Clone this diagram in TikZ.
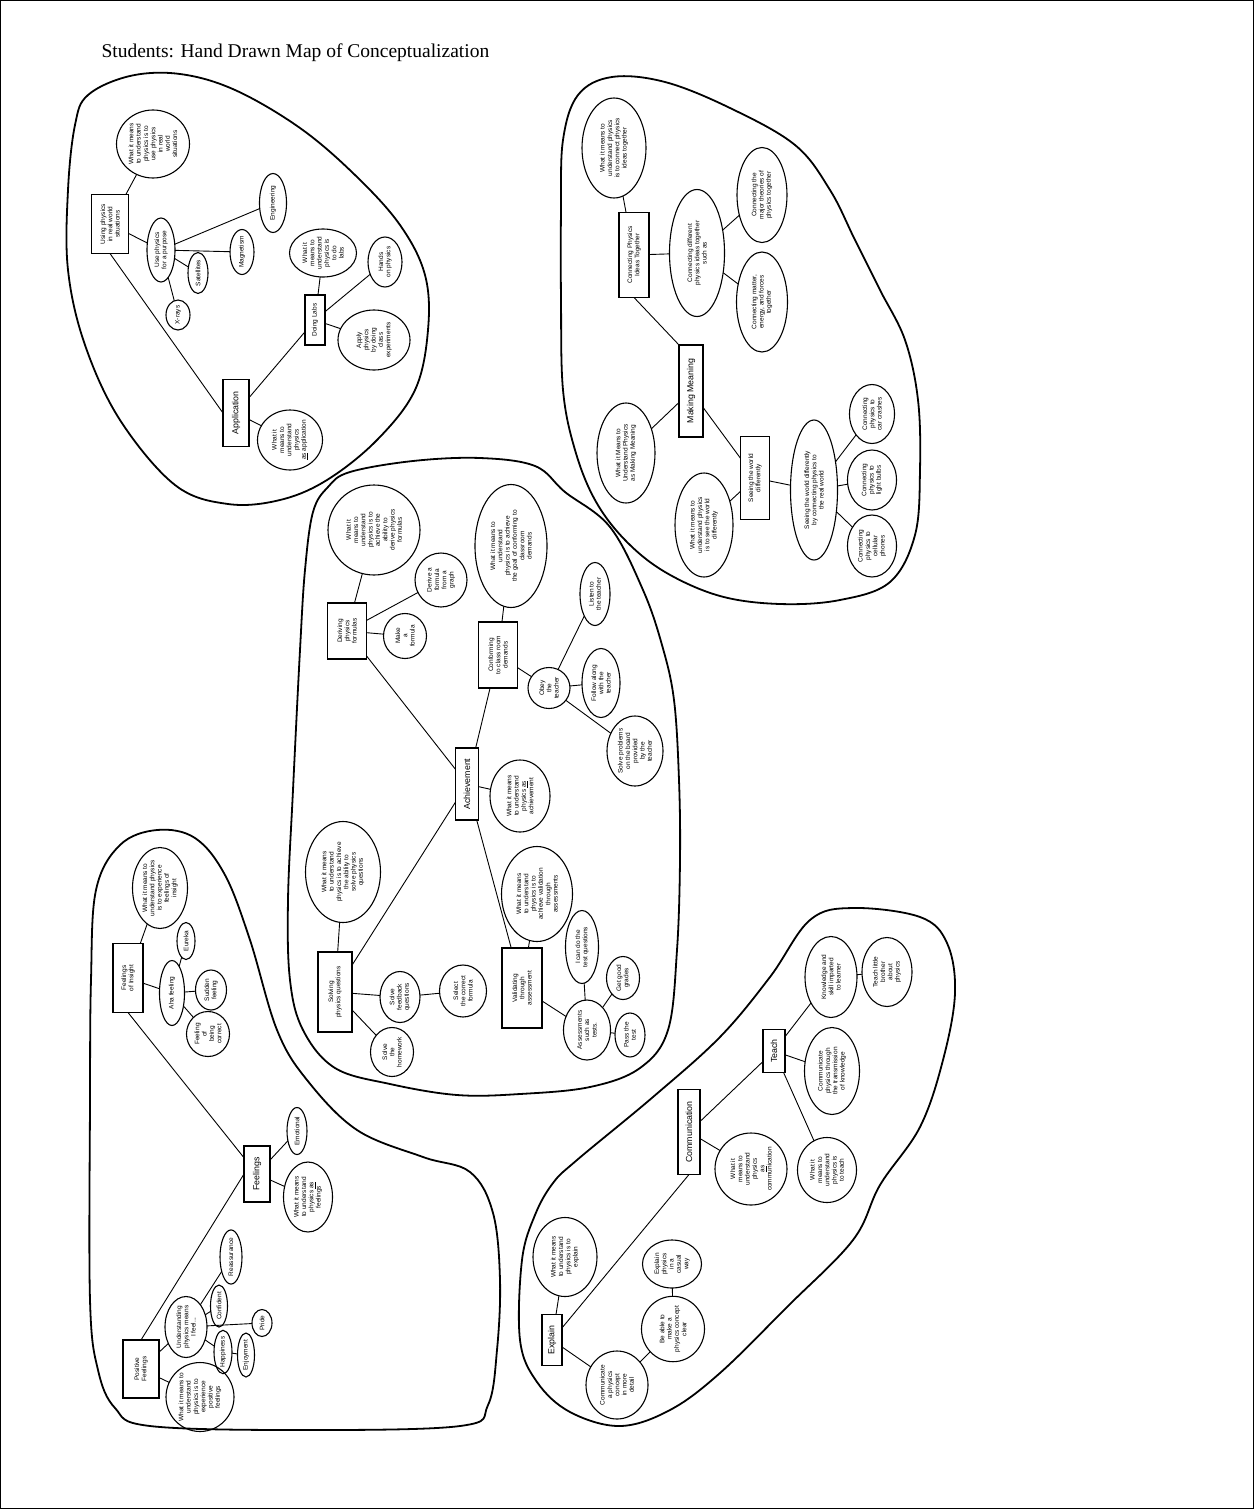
\documentclass[tikz,border=0pt]{standalone}
\usepackage{fontspec}
\setmainfont{Liberation Serif}
\newfontfamily\handfont{Liberation Sans}
\usetikzlibrary{shapes.geometric}
\tikzset{
  hand/.style={draw, line width=1.1pt, inner sep=0pt, outer sep=0pt, rotate=90, align=center, font=\handfont\fontsize{6.5}{7.3}\selectfont},
  hell/.style={hand, ellipse},
  hbox/.style={hand, rectangle},
  bigtext/.style={font=\handfont\fontsize{8.8}{9.8}\selectfont},
  wh/.style 2 args={minimum width=#2, minimum height=#1},
  link/.style={line width=0.9pt},
  blob/.style={line width=1.8pt, line join=round},
}
\begin{document}
\begin{tikzpicture}[x=1pt,y=-1pt]
\useasboundingbox (0,0) rectangle (1255,1510);
\fill[white] (0,0) rectangle (1255,1510);
\draw[line width=1pt] (0.8,0.8) rectangle (1253.5,1508.5);
\node[anchor=base west, font=\fontsize{19.5}{23}\selectfont] (title) at (98,57) {Students: Hand Drawn Map of Conceptualization};

% ---------------- Blob outlines ----------------
\draw[blob] plot[smooth cycle, tension=0.6] coordinates {(88,95) (130,76) (180,74) (235,90) (300,128) (355,175) (400,225) (425,275) (428,330) (415,390) (377,440) (327,480) (280,500) (228,504) (175,485) (120,420) (85,345) (68,270) (68,190) (75,125)};
\draw[blob] plot[smooth cycle, tension=0.6] coordinates {(563,140) (578,95) (612,77) (665,82) (730,108) (795,145) (830,190) (855,240) (880,290) (905,340) (918,400) (920,470) (915,535) (890,582) (840,600) (780,604) (720,596) (665,572) (625,540) (595,500) (575,450) (563,390) (561,300) (561,210)};
\draw[blob] plot[smooth cycle, tension=0.6] coordinates {(313,512) (328,487) (350,472) (413,461) (480,458) (535,466) (565,492) (610,527) (643,590) (662,645) (674,700) (679,780) (680,860) (677,950) (668,1030) (640,1068) (590,1087) (520,1094) (457,1095) (390,1084) (335,1068) (303,1030) (290,980) (288,900) (293,790) (300,650) (305,570)};
\draw[blob] plot[smooth cycle, tension=0.6] coordinates {(96,890) (120,845) (157,830) (195,838) (225,875) (250,940) (277,1030) (307,1080) (357,1130) (423,1157) (470,1172) (493,1213) (500,1280) (497,1350) (488,1405) (460,1426) (300,1430) (150,1426) (115,1408) (98,1370) (90,1300) (90,1100) (91,980)};
\draw[blob] plot[smooth cycle, tension=0.6] coordinates {(577,1160) (653,1097) (720,1037) (770,977) (810,920) (853,908) (920,917) (947,943) (955,993) (943,1060) (920,1127) (880,1185) (853,1240) (787,1307) (720,1373) (670,1410) (620,1426) (570,1412) (537,1382) (520,1340) (522,1260) (535,1215) (553,1183)};

% ---------------- Blob 1: Application ----------------
\node[hell, wh={73}{68}] (b1wim) at (153,144) {What it means\\to understand\\physics is to\\use physics\\in real\\world\\situations};
\node[hbox, wh={37}{59}] (b1using) at (110,224) {Using physics\\in real world\\situations};
\node[hell, wh={28}{64}] (b1purp) at (161,250) {Use physics\\for a purpose};
\node[hell, wh={27}{59}] (b1eng) at (273,203) {Engineering};
\node[hell, wh={24}{45}] (b1mag) at (242,252) {Magnetism};
\node[hell, wh={20}{41}] (b1sat) at (198,273) {Satellites};
\node[hell, wh={24}{30}] (b1xray) at (178,315) {X-rays};
\node[hell, wh={67}{48}] (b1wimlabs) at (323,253) {What it\\means to\\understand\\physics is\\to do\\labs};
\node[hell, wh={34}{50}] (b1hands) at (385,262) {Hands\\on physics};
\node[hbox, wh={20}{50}] (b1labs) at (315,320) {Doing Labs};
\node[hell, wh={72}{60}] (b1apply) at (374,340) {Apply\\physics\\by doing\\class\\experiments};
\node[hbox, bigtext, wh={26}{67}] (b1appl) at (236,413) {Application};
\node[hell, wh={65}{60}] (b1wimappl) at (290,440) {What it\\means to\\understand\\physics\\\underline{as} application};

\draw[link] (b1using) -- (b1wim);
\draw[link] (b1using) -- (b1purp);
\draw[link] (b1purp) -- (b1eng);
\draw[link] (b1purp) -- (b1mag);
\draw[link] (b1purp) -- (b1sat);
\draw[link] (b1purp) -- (b1xray);
\draw[link] (b1using.west) -- (b1appl.north);
\draw[link] (b1appl) -- (b1labs);
\draw[link] (b1appl) -- (b1wimappl);
\draw[link] (b1labs) -- (b1wimlabs);
\draw[link] (b1labs) -- (b1hands);
\draw[link] (b1labs) -- (b1apply);

% ---------------- Blob 2: Making Meaning ----------------
\node[hell, wh={64}{100}] (b2wim) at (614,148) {What it means to\\understand physics\\is to connect physics\\ideas together};
\node[hbox, wh={30}{85}] (b2conn) at (634,255) {Connecting Physics\\Ideas Together};
\node[hell, wh={55}{127}] (b2diff) at (697,253) {Connecting different\\physics ideas together\\such as};
\node[hell, wh={50}{95}] (b2major) at (762,195) {Connecting the\\major theories of\\physics together};
\node[hell, wh={51}{100}] (b2matter) at (762,302) {Connecting matter,\\energy, and forces\\together};
\node[hbox, bigtext, wh={24}{92}] (b2making) at (691,391) {Making Meaning};
\node[hell, wh={58}{100}] (b2wimmm) at (626,453) {What it Means to\\Understand Physics\\as Making Meaning};
\node[hbox, wh={29}{83}] (b2seeing) at (755,478) {Seeing the world\\differently};
\node[hell, wh={58}{104}] (b2wimsee) at (704,525) {What it means to\\understand physics\\is to see the world\\differently};
\node[hell, wh={47}{140}] (b2seeconn) at (814,490) {Seeing the world differently\\by connecting physics to\\the real world};
\node[hell, wh={45}{59}] (b2car) at (872,414) {Connecting\\physics to\\car crashes};
\node[hell, wh={49}{60}] (b2bulb) at (872,480) {Connecting\\physics to\\light bulbs};
\node[hell, wh={49}{62}] (b2phone) at (872,546) {Connecting\\physics to\\cellular\\phones};

\draw[link] (b2wim) -- (b2conn);
\draw[link] (b2conn) -- (b2diff);
\draw[link] (b2diff) -- (b2major);
\draw[link] (b2diff) -- (b2matter);
\draw[link] (b2conn.west) -- (b2making.north east);
\draw[link] (b2making) -- (b2wimmm);
\draw[link] (b2making) -- (b2seeing);
\draw[link] (b2seeing) -- (b2wimsee);
\draw[link] (b2seeing) -- (b2seeconn);
\draw[link] (b2seeconn) -- (b2car);
\draw[link] (b2seeconn) -- (b2bulb);
\draw[link] (b2seeconn) -- (b2phone);

% ---------------- Blob 3: Achievement ----------------
\node[hell, wh={92}{90}] (b3wimder) at (374,530) {What it\\means to\\understand\\physics is to\\achieve the\\ability to\\derive physics\\formulas};
\node[hell, wh={52}{54}] (b3graph) at (441,580) {Derive a\\formula\\from a\\graph};
\node[hbox, wh={39}{56}] (b3deriv) at (347,631) {Deriving\\physics\\formulas};
\node[hell, wh={43}{45}] (b3make) at (405,636) {Make\\a\\formula};
\node[hell, wh={72}{123}] (b3wimconf) at (511,546) {What it means to\\understand\\physics is to achieve\\the goal of conforming to\\classroom\\demands};
\node[hbox, wh={39}{66}] (b3conf) at (498,655) {Conforming\\to class room\\demands};
\node[hell, wh={42}{41}] (b3obey) at (549,688) {Obey\\the\\teacher};
\node[hell, wh={30}{63}] (b3listen) at (595,594) {Listen to\\the teacher};
\node[hell, wh={38}{69}] (b3follow) at (601,683) {Follow along\\with the\\teacher};
\node[hell, wh={56}{70}] (b3board) at (635,751) {Solve problems\\on the board\\provided\\by the\\teacher};
\node[hbox, bigtext, wh={23}{72}] (b3ach) at (467,784) {Achievement};
\node[hell, wh={60}{72}] (b3wimach) at (520,796) {What it means\\to understand\\physics \underline{as}\\achievement};
\node[hell, wh={75}{101}] (b3wimsolve) at (343,872) {What it means\\to understand\\physics is to achieve\\the ability to\\solve physics\\questions};
\node[hbox, wh={34}{80}] (b3solving) at (335,992) {Solving\\physics questions};
\node[hell, wh={40}{51}] (b3feed) at (400,997) {Solve\\feedback\\questions};
\node[hell, wh={47}{52}] (b3select) at (463,991) {Select\\the correct\\formula};
\node[hell, wh={43}{49}] (b3home) at (392,1052) {Solve\\the\\homework};
\node[hell, wh={71}{95}] (b3wimval) at (537,894) {What it means\\to understand\\physics is to\\achieve validation\\through\\assessments};
\node[hbox, wh={40}{80}] (b3valid) at (522,988) {Validating\\through\\assessment};
\node[hell, wh={33}{73}] (b3cando) at (582,947) {I can do the\\test questions};
\node[hell, wh={33}{43}] (b3grades) at (623,978) {Get good\\grades};
\node[hell, wh={47}{60}] (b3assess) at (587,1030) {Assessments\\such as\\tests.};
\node[hell, wh={30}{44}] (b3pass) at (630,1035) {Pass the\\test};

\draw[link] (b3wimder) -- (b3deriv);
\draw[link] (b3deriv) -- (b3graph);
\draw[link] (b3deriv) -- (b3make);
\draw[link] (b3deriv) -- (b3ach);
\draw[link] (b3wimconf) -- (b3conf);
\draw[link] (b3conf) -- (b3ach);
\draw[link] (b3conf) -- (b3obey);
\draw[link] (b3obey) -- (b3listen);
\draw[link] (b3obey) -- (b3follow);
\draw[link] (b3obey) -- (b3board);
\draw[link] (b3ach) -- (b3wimach);
\draw[link] (b3ach) -- (b3solving);
\draw[link] (b3ach) -- (b3valid);
\draw[link] (b3wimsolve) -- (b3solving);
\draw[link] (b3solving) -- (b3feed);
\draw[link] (b3feed) -- (b3select);
\draw[link] (b3solving) -- (b3home);
\draw[link] (b3wimval) -- (b3valid);
\draw[link] (b3valid) -- (b3assess);
\draw[link] (b3assess) -- (b3cando);
\draw[link] (b3assess) -- (b3grades);
\draw[link] (b3assess) -- (b3pass);

% ---------------- Blob 4: Feelings ----------------
\node[hell, wh={55}{81}] (b4wimins) at (160,888) {What it means to\\understand physics\\is to experience\\feelings of\\insight};
\node[hbox, wh={30}{69}] (b4insight) at (128,978) {Feelings\\of Insight};
\node[hell, wh={25}{65}] (b4aha) at (172,993) {Aha feeling};
\node[hell, wh={18}{37}] (b4eureka) at (186,941) {Eureka};
\node[hell, wh={31}{40}] (b4sudden) at (211,990) {Sudden\\feeling};
\node[hell, wh={43}{45}] (b4correct) at (208,1034) {Feeling\\of\\being\\correct};
\node[hbox, bigtext, wh={26}{56}] (b4feel) at (257,1174) {Feelings};
\node[hell, wh={20}{47}] (b4emot) at (297,1131) {Emotional};
\node[hell, wh={49}{70}] (b4wimfeel) at (308,1197) {What it means\\to understand\\physics \underline{as}\\feelings};
\node[hbox, wh={36}{58}] (b4pos) at (141,1369) {Positive\\Feelings};
\node[hell, wh={42}{61}] (b4under) at (186,1327) {Understanding\\physics means\\I feel...};
\node[hell, wh={22}{50}] (b4reass) at (231,1257) {Reassurance};
\node[hell, wh={17}{42}] (b4conf) at (219,1306) {Confident};
\node[hell, wh={20}{27}] (b4pride) at (262,1323) {Pride};
\node[hell, wh={18}{41}] (b4happy) at (223,1352) {Happiness};
\node[hell, wh={17}{44}] (b4enjoy) at (246,1355) {Enjoyment};
\node[hell, wh={68}{62}] (b4wimpos) at (200,1397) {What it means to\\understand\\physics is to\\experience\\positive\\feelings};

\draw[link] (b4wimins) -- (b4insight);
\draw[link] (b4insight) -- (b4aha);
\draw[link] (b4aha) -- (b4eureka);
\draw[link] (b4aha) -- (b4sudden);
\draw[link] (b4aha) -- (b4correct);
\draw[link] (b4insight.west) -- (b4feel);
\draw[link] (b4feel) -- (b4emot);
\draw[link] (b4feel) -- (b4wimfeel);
\draw[link] (b4feel.north) -- (b4pos.east);
\draw[link] (b4pos) -- (b4under);
\draw[link] (b4under) -- (b4reass);
\draw[link] (b4under) -- (b4conf);
\draw[link] (b4under) -- (b4pride);
\draw[link] (b4under) -- (b4happy);
\draw[link] (b4happy) -- (b4enjoy);
\draw[link] (b4pos) -- (b4wimpos);

% ---------------- Blob 5: Communication ----------------
\node[hell, wh={52}{81}] (b5know) at (831,977) {Knowledge and\\skill imparted\\to learner};
\node[hell, wh={50}{69}] (b5bro) at (887,972) {Teach little\\brother\\about\\physics};
\node[hbox, bigtext, wh={22}{43}] (b5teach) at (774,1051) {Teach};
\node[hell, wh={55}{87}] (b5trans) at (832,1071) {Communicate\\physics through\\the transmission\\of knowledge};
\node[hbox, bigtext, wh={22}{85}] (b5comm) at (689,1132) {Communication};
\node[hell, wh={72}{72}] (b5wimcomm) at (751,1169) {What it\\means to\\understand\\physics\\\underline{as}\\communication};
\node[hell, wh={59}{65}] (b5wimteach) at (827,1170) {What it\\means to\\understand\\physics is\\to teach};
\node[hell, wh={64}{79}] (b5wimexpl) at (565,1257) {What it means\\to understand\\physics is to\\explain};
\node[hbox, bigtext, wh={20}{51}] (b5expl) at (552,1340) {Explain};
\node[hell, wh={59}{48}] (b5casual) at (672,1264) {Explain\\physics\\in a\\casual\\way};
\node[hell, wh={63}{65}] (b5clear) at (673,1329) {Be able to\\make a\\physics concept\\clear};
\node[hell, wh={62}{68}] (b5detail) at (617,1385) {Communicate\\a physics\\concept\\in more\\detail};

\draw[link] (b5teach) -- (b5know);
\draw[link] (b5know) -- (b5bro);
\draw[link] (b5teach) -- (b5trans);
\draw[link] (b5teach) -- (b5comm);
\draw[link] (b5teach) -- (b5wimteach);
\draw[link] (b5comm) -- (b5wimcomm);
\draw[link] (b5comm.west) -- (b5expl);
\draw[link] (b5expl) -- (b5wimexpl);
\draw[link] (b5expl) -- (b5detail);
\draw[link] (b5detail) -- (b5clear);
\draw[link] (b5clear) -- (b5casual);
\end{tikzpicture}
\end{document}
